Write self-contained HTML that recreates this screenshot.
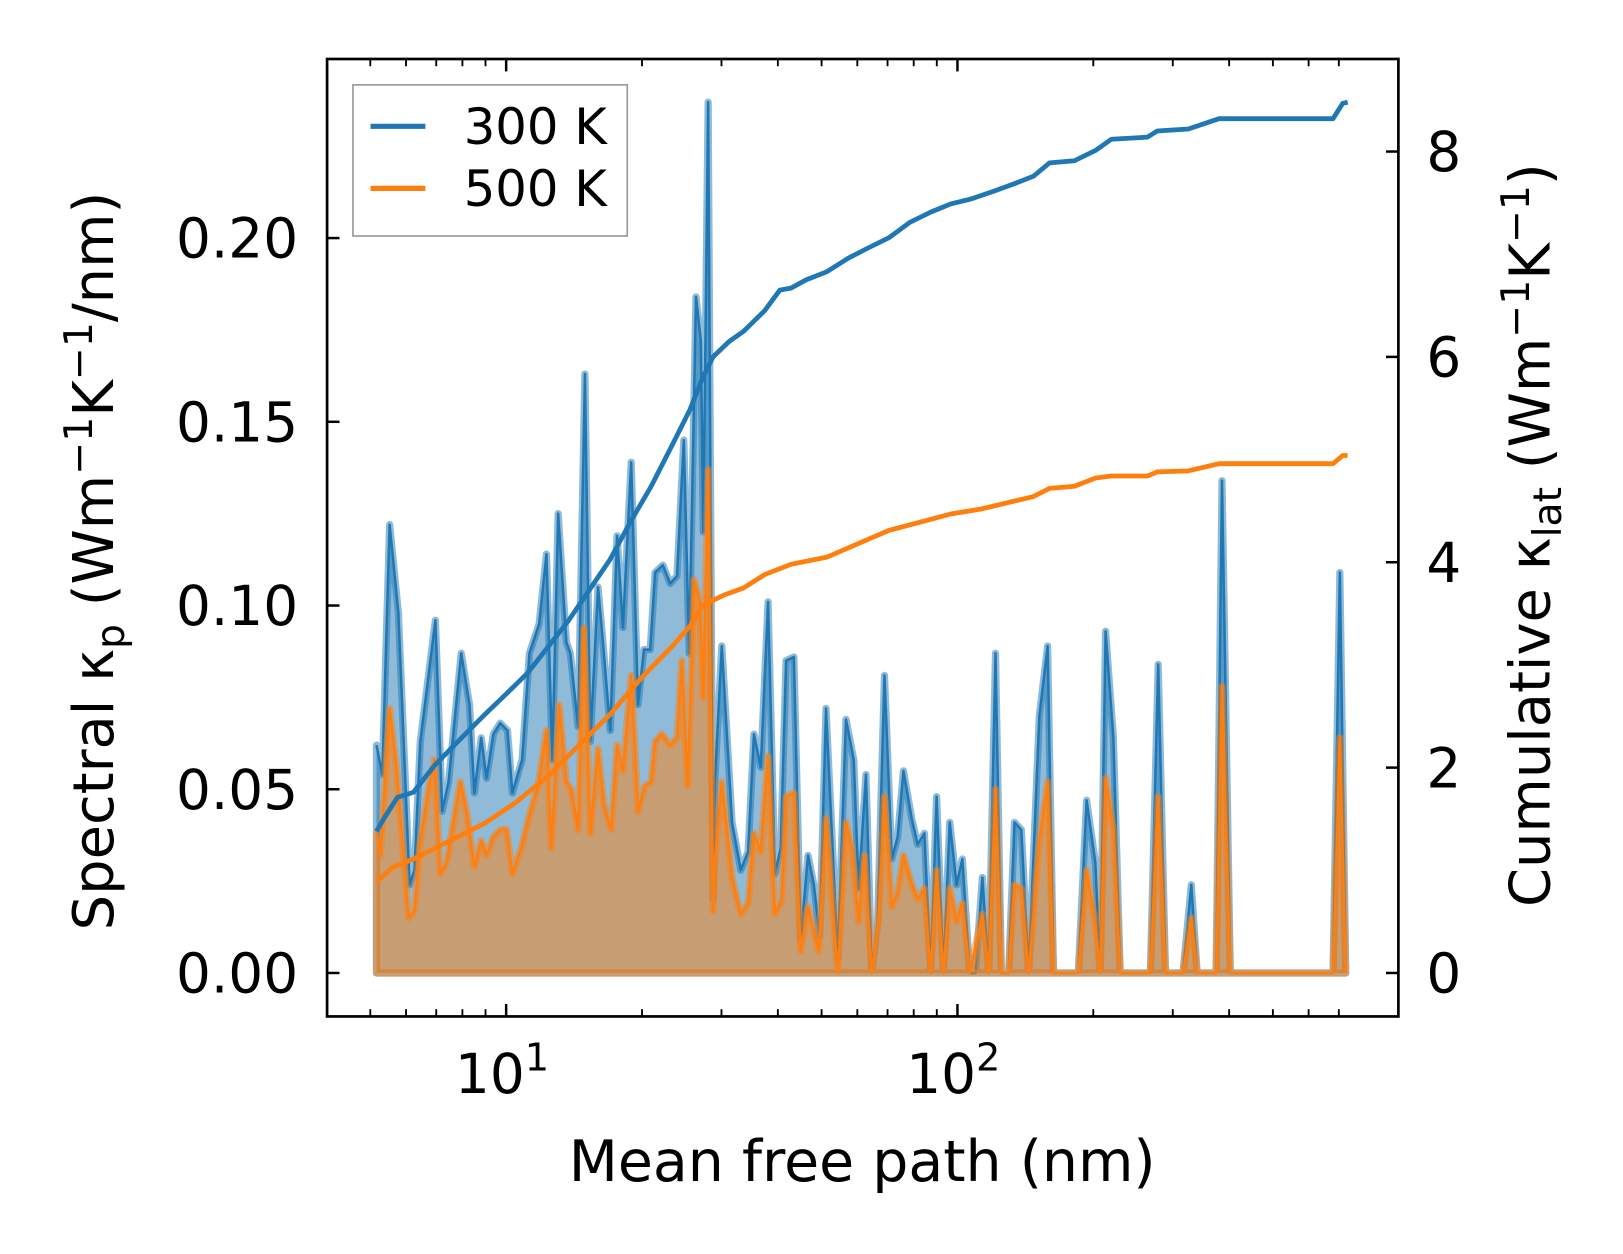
<!DOCTYPE html>
<html><head><meta charset="utf-8"><style>
html,body{margin:0;padding:0;background:#fff;}
svg{display:block;}
text{font-family:"DejaVu Sans","Liberation Sans",sans-serif;fill:#000;}
</style></head><body>
<svg id="chart" width="1623" height="1254" viewBox="0 0 1568 1211.5" preserveAspectRatio="none" xmlns="http://www.w3.org/2000/svg">
<rect x="0" y="0" width="1568" height="1212" fill="#fff"/>
<g id="plot"></g>
<g id="axes"></g>
<g>
  <rect x="341" y="82" width="265" height="146" fill="#fff" fill-opacity="0.8" stroke="#999" stroke-width="1.6"/>
  <line x1="358" y1="122" x2="411" y2="122" stroke="#1f77b4" stroke-width="5"/>
  <text x="448" y="139" font-size="48">300 K</text>
  <line x1="358" y1="182" x2="411" y2="182" stroke="#ff7f0e" stroke-width="5"/>
  <text x="448" y="199" font-size="48">500 K</text>
</g>
<text x="833" y="1141" font-size="55" text-anchor="middle">Mean free path (nm)</text>
<text transform="translate(109,542) rotate(-90)" font-size="54" text-anchor="middle">Spectral κ<tspan font-size="38" dy="11">p</tspan><tspan dy="-11"> (Wm</tspan><tspan font-size="38" dy="-20">−1</tspan><tspan dy="20">K</tspan><tspan font-size="38" dy="-20">−1</tspan><tspan dy="20">/nm)</tspan></text>
<text transform="translate(1497,517) rotate(-90)" font-size="54" text-anchor="middle">Cumulative κ<tspan font-size="38" dy="11">lat</tspan><tspan dy="-11"> (Wm</tspan><tspan font-size="38" dy="-20">−1</tspan><tspan dy="20">K</tspan><tspan font-size="38" dy="-20">−1</tspan><tspan dy="20">)</tspan></text>
</svg>
<script>
// bin grid of mean free path (log spaced)
const mfpMin = 5.16, mfpMax = 725, nBins = 200;
// spectral 300 K: vertex bins and values
const bin300 = [0,1.2,2.7,4.5,6.8,7.8,9.0,12.1,13.5,14.8,17.4,19.1,20.1,21.5,22.6,24.0,25.4,26.9,27.9,29.9,31.4,33.4,34.9,36.1,37.3,39.0,39.8,41.4,42.8,43.9,45.5,46.5,48.0,49.4,50.6,52.3,53.7,54.9,56.2,57.2,58.8,60.3,61.7,63.1,64.2,65.6,66.6,67.1,68.1,69.1,69.5,70.9,73.0,74.8,76.3,77.5,78.9,80.4,81.8,83.0,84.1,85.7,87.1,88.6,89.8,91.0,92.3,94.7,96.4,98.0,99.0,100.5,101.7,102.9,104.3,105.8,107.0,108.2,109.9,111.1,112.5,113.8,115.0,116.4,117.7,119.1,120.3,121.8,123.0,124.4,125.7,127.1,128.3,129.8,131.0,132.4,133.9,136.1,137.8,139.0,144.1,145.8,147.6,148.6,149.7,151.3,152.7,158.9,160.5,162.0,165.6,167.3,168.5,172.4,173.6,175.3,196.4,197.8,199];
const k300 = [0.062,0.054,0.122,0.098,0.024,0.028,0.063,0.096,0.044,0.052,0.087,0.073,0.049,0.064,0.053,0.065,0.068,0.066,0.049,0.058,0.087,0.095,0.114,0.058,0.125,0.090,0.087,0.067,0.163,0.063,0.105,0.090,0.066,0.119,0.094,0.139,0.073,0.088,0.088,0.109,0.111,0.106,0.108,0.145,0.087,0.184,0.172,0.12,0.237,0.020,0.053,0.089,0.041,0.028,0.033,0.065,0.056,0.101,0.027,0.034,0.085,0.086,0.009,0.032,0.024,0.010,0.072,0.004,0.069,0.058,0.023,0.054,0,0.014,0.081,0.031,0.037,0.055,0.042,0.035,0.038,0,0.048,0,0.041,0.024,0.031,0,0,0.026,0,0.087,0,0,0.041,0.039,0,0.070,0.089,0,0,0.047,0.030,0,0.093,0.064,0,0,0.084,0,0,0.024,0,0,0.134,0,0,0.109,0];
// spectral 500 K
const bin500 = [0,0.8,2.7,4.1,6.6,7.8,9.0,10.7,11.9,13.1,14.4,17.2,18.5,20.1,21.5,22.6,24.0,25.4,26.7,27.9,29.7,31.6,33.2,34.9,35.9,37.5,39.0,40.0,41.4,42.6,43.9,45.5,46.7,48.2,49.4,50.6,52.3,53.7,55.1,56.4,57.2,58.6,60.3,61.7,62.7,63.9,65.2,66.4,67.1,68.1,69.1,69.5,70.9,73.0,74.8,76.3,77.5,78.9,80.4,81.8,83.2,84.1,85.7,87.1,88.6,90.8,92.3,94.7,96.4,97.6,99.0,100.2,101.7,103.1,104.3,105.8,107.0,108.2,109.7,111.1,112.5,113.8,115.0,116.4,117.7,119.1,120.3,121.8,124.4,125.7,127.1,128.3,129.8,131.0,132.4,133.9,136.1,137.8,139.0,144.1,145.8,147.6,148.6,149.7,151.3,152.7,158.9,160.5,162.0,165.6,167.3,168.5,172.4,173.6,175.3,196.4,197.8,199];
const k500 = [0.038,0.032,0.072,0.056,0.015,0.017,0.036,0.050,0.058,0.027,0.030,0.052,0.044,0.029,0.036,0.032,0.037,0.039,0.039,0.027,0.034,0.044,0.051,0.066,0.034,0.073,0.052,0.050,0.039,0.094,0.038,0.061,0.046,0.039,0.062,0.055,0.081,0.044,0.051,0.052,0.063,0.065,0.062,0.064,0.085,0.051,0.107,0.101,0.075,0.137,0.017,0.031,0.052,0.026,0.016,0.019,0.038,0.033,0.059,0.016,0.020,0.048,0.049,0.006,0.018,0.006,0.042,0,0.041,0.034,0.014,0.032,0,0.015,0.048,0.018,0.022,0.032,0.025,0.020,0.023,0,0.028,0,0.023,0.014,0.019,0,0.016,0,0.050,0,0,0.024,0.023,0,0.036,0.052,0,0,0.028,0.013,0,0.053,0.039,0,0,0.048,0,0,0.015,0,0,0.078,0,0,0.064,0];
// cumulative 300 K
const binCum300 = [0,1.6,4.3,7.6,11.9,16.0,22.3,26.7,31.0,35.3,39.4,43.7,48.0,52.1,56.4,60.7,64.4,67.0,69.1,72.4,75.4,79.7,82.8,85.1,88.2,92.5,96.8,100.9,105.2,109.5,113.8,117.9,122.2,126.5,130.6,134.9,138.2,143.3,147.6,150.9,158.3,160.3,166.7,173.0,196.4,198.4,199.4];
const cum300 = [1.38,1.51,1.71,1.76,2.02,2.22,2.52,2.72,2.92,3.18,3.43,3.73,4.03,4.39,4.74,5.14,5.49,5.80,6.00,6.15,6.25,6.45,6.65,6.67,6.75,6.83,6.96,7.06,7.16,7.31,7.41,7.49,7.54,7.61,7.68,7.76,7.89,7.91,8.01,8.12,8.14,8.20,8.22,8.32,8.32,8.47,8.48];
// cumulative 500 K
const binCum500 = [0,3.4,7.6,16.0,22.3,28.6,35.3,41.6,48.0,54.3,60.7,64.4,67.0,71.3,75.4,79.7,85.1,92.5,98.8,105.2,111.6,117.9,124.3,129.6,134.9,138.2,143.3,147.6,150.9,158.3,160.3,166.7,173.0,196.4,198.4,199.4];
const cum500 = [0.89,1.03,1.11,1.31,1.46,1.66,1.92,2.22,2.52,2.87,3.18,3.38,3.58,3.68,3.75,3.88,3.98,4.05,4.18,4.31,4.39,4.47,4.52,4.58,4.64,4.72,4.74,4.82,4.84,4.84,4.88,4.89,4.96,4.96,5.04,5.04];
// ticks
const yLeftTicks = [0.00,0.05,0.10,0.15,0.20];
const yRightTicks = [0,2,4,6,8];
const xMajorTicks = [10,100];
const xMinorTicks = [5,6,7,8,9,20,30,40,50,60,70,80,90,200,300,400,500,600,700];

const NS = "http://www.w3.org/2000/svg";
const AX = {l:316, r:1351, t:57, b:982};
function xScale(nm){ return 489 + 436*(Math.log10(nm)-1); }
function binToMfp(b){ return mfpMin*Math.pow(mfpMax/mfpMin, b/(nBins-1)); }
function xb(b){ return xScale(binToMfp(b)); }
function yL(v){ return 940 - v*3550; }
function yR(v){ return 940 - v*99.2; }
function mk(tag, attrs, parent){ const e=document.createElementNS(NS,tag); for(const k in attrs) e.setAttribute(k,attrs[k]); parent.appendChild(e); return e; }

const plot = document.getElementById('plot');
const axes = document.getElementById('axes');

function drawSpectral(bins, vals, color, name){
  const pts = bins.map((b,i)=>xb(b).toFixed(2)+','+yL(vals[i]).toFixed(2));
  const poly = pts.join(' ') + ' ' + xb(bins[bins.length-1]).toFixed(2)+','+yL(0)+' '+xb(bins[0]).toFixed(2)+','+yL(0);
  const f = mk('polygon',{points:poly, fill:color, 'fill-opacity':0.5, stroke:color, 'stroke-opacity':0.5, 'stroke-width':7, 'stroke-linejoin':'round'}, plot);
  
  
  const l = mk('polyline',{points:pts.join(' '), fill:'none', stroke:color, 'stroke-width':2.4, 'stroke-linejoin':'round'}, plot);
  
  
}
drawSpectral(bin300, k300, '#1f77b4', 'spectral-300k');
drawSpectral(bin500, k500, '#ff7f0e', 'spectral-500k');

function drawCum(bins, vals, color, name){
  const pts = bins.map((b,i)=>xb(b).toFixed(2)+','+yR(vals[i]).toFixed(2)).join(' ');
  const l = mk('polyline',{points:pts, fill:'none', stroke:color, 'stroke-width':4.6, 'stroke-linejoin':'round'}, plot);
  
  
}
drawCum(binCum300, cum300, '#1f77b4', 'cumulative-300k');
drawCum(binCum500, cum500, '#ff7f0e', 'cumulative-500k');

const frame = mk('rect',{x:AX.l,y:AX.t,width:AX.r-AX.l,height:AX.b-AX.t,fill:'none',stroke:'#000','stroke-width':2.6}, axes);



yLeftTicks.forEach(v=>{
  const y=yL(v);
  mk('line',{x1:AX.l,y1:y,x2:AX.l+12,y2:y,stroke:'#000','stroke-width':2.4}, axes);
  const t=mk('text',{x:288,y:y+19,'font-size':53,'text-anchor':'end'}, axes);
  t.textContent=v.toFixed(2);
  
  
});
yRightTicks.forEach(v=>{
  const y=yR(v);
  mk('line',{x1:AX.r-12,y1:y,x2:AX.r,y2:y,stroke:'#000','stroke-width':2.4}, axes);
  const t=mk('text',{x:1378,y:y+19,'font-size':53}, axes);
  t.textContent=String(v);
  
  
});
xMajorTicks.forEach(v=>{
  const x=xScale(v);
  mk('line',{x1:x,y1:AX.b,x2:x,y2:AX.b-12,stroke:'#000','stroke-width':2.4}, axes);
  mk('line',{x1:x,y1:AX.t,x2:x,y2:AX.t+12,stroke:'#000','stroke-width':2.4}, axes);
  const t=mk('text',{x:x-4,y:1056,'font-size':53,'text-anchor':'middle'}, axes);
  t.textContent='10';
  const s=mk('tspan',{'font-size':37,dy:-22}, t);
  s.textContent=String(Math.round(Math.log10(v)));
  
  
});
xMinorTicks.forEach(v=>{
  const x=xScale(v);
  mk('line',{x1:x,y1:AX.b,x2:x,y2:AX.b-7,stroke:'#000','stroke-width':1.8}, axes);
  mk('line',{x1:x,y1:AX.t,x2:x,y2:AX.t+7,stroke:'#000','stroke-width':1.8}, axes);
});
</script>
</body></html>
